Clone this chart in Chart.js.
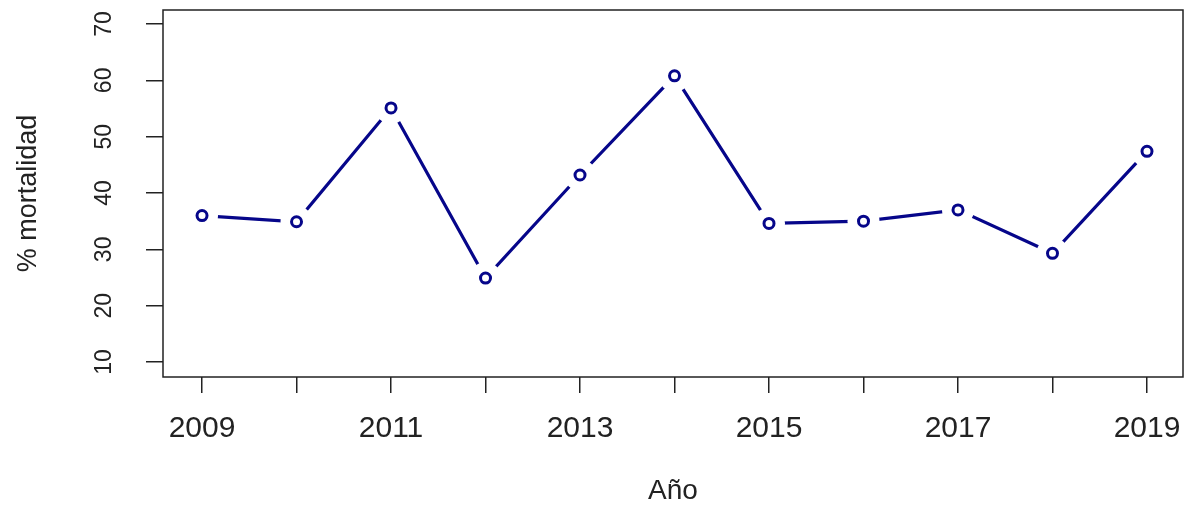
<!DOCTYPE html>
<html>
<head>
<meta charset="utf-8">
<script src="https://cdn.jsdelivr.net/npm/chart.js@4/dist/chart.umd.min.js"></script>
<style>
  html, body { margin: 0; padding: 0; background: #fff; }
  #wrap { width: 1193px; height: 508px; }
</style>
</head>
<body>
<div id="wrap"><canvas id="mortChart" width="1193" height="508"></canvas></div>
<script>
// data
const years = [2009, 2010, 2011, 2012, 2013, 2014, 2015, 2016, 2017, 2018, 2019];
const mortality = [36.0, 34.9, 55.1, 24.9, 43.2, 60.8, 34.6, 35.0, 37.0, 29.3, 47.4];
const yTicks = [10, 20, 30, 40, 50, 60, 70];
const xLabelYears = [2009, 2011, 2013, 2015, 2017, 2019];

const LINE = '#06068a';
const points = years.map((yr, i) => ({ x: yr, y: mortality[i] }));

// frame around plot area + rotated y tick labels (R style)
const framePlugin = {
  id: 'frame',
  afterDraw(chart) {
    const { ctx, chartArea: a } = chart;
    const ys = chart.scales.y;
    ctx.save();
    ctx.strokeStyle = '#222';
    ctx.lineWidth = 1.5;
    ctx.strokeRect(a.left, a.top, a.right - a.left, a.bottom - a.top);
    ctx.fillStyle = '#222';
    ctx.font = '23px "Liberation Sans", Arial, sans-serif';
    ctx.textAlign = 'center';
    ctx.textBaseline = 'middle';
    yTicks.forEach(v => {
      const py = ys.getPixelForValue(v);
      ctx.save();
      ctx.translate(105, py);
      ctx.rotate(-Math.PI / 2);
      ctx.fillText(String(v), 0, 0);
      ctx.restore();
    });
    ctx.restore();
  }
};

const ctx = document.getElementById('mortChart').getContext('2d');
const mortChart = new Chart(ctx, {
  type: 'line',
  data: {
    datasets: [
      {
        // visible points on top
        data: points,
        showLine: false,
        pointRadius: 5,
        pointBorderWidth: 3,
        pointBorderColor: LINE,
        pointBackgroundColor: '#fff',
        order: 1
      },
      {
        // white mask making the gaps of type="b"
        data: points,
        showLine: false,
        pointRadius: 16,
        pointBorderWidth: 0,
        pointBackgroundColor: '#fff',
        pointBorderColor: '#fff',
        order: 2
      },
      {
        data: points,
        borderColor: LINE,
        borderWidth: 3.2,
        pointRadius: 0,
        tension: 0,
        order: 3
      }
    ]
  },
  options: {
    responsive: false,
    animation: false,
    events: [],
    layout: { autoPadding: false, padding: { left: 0, top: 10, right: 10, bottom: 0 } },
    plugins: {
      legend: { display: false },
      tooltip: { enabled: false }
    },
    scales: {
      x: {
        type: 'linear',
        min: 2008.587,
        max: 2019.381,
        afterFit(scale) {
          scale.height = 131;
          scale.paddingLeft = 0;
          scale.paddingRight = 0;
        },
        border: { display: false },
        grid: {
          drawOnChartArea: false,
          drawTicks: true,
          tickLength: 16,
          color: '#222',
          lineWidth: 1.5
        },
        ticks: {
          stepSize: 1,
          includeBounds: false,
          autoSkip: false,
          maxRotation: 0,
          padding: 18,
          color: '#222',
          font: { family: '"Liberation Sans", Arial, sans-serif', size: 30 },
          callback: v => xLabelYears.includes(v) ? String(v) : ''
        },
        title: {
          display: true,
          text: 'Año',
          color: '#222',
          font: { family: '"Liberation Sans", Arial, sans-serif', size: 28 },
          padding: 0
        }
      },
      y: {
        min: 7.34,
        max: 72.49,
        afterFit(scale) {
          scale.width = 163;
          scale.paddingTop = 0;
          scale.paddingBottom = 0;
        },
        border: { display: false },
        grid: {
          drawOnChartArea: false,
          drawTicks: true,
          tickLength: 17,
          color: '#222',
          lineWidth: 1.5
        },
        ticks: {
          stepSize: 10,
          includeBounds: false,
          display: false
        },
        title: {
          display: true,
          text: '% mortalidad',
          color: '#222',
          font: { family: '"Liberation Sans", Arial, sans-serif', size: 27 },
          padding: { top: 12, bottom: 0 }
        }
      }
    }
  },
  plugins: [framePlugin]
});
</script>
</body>
</html>
